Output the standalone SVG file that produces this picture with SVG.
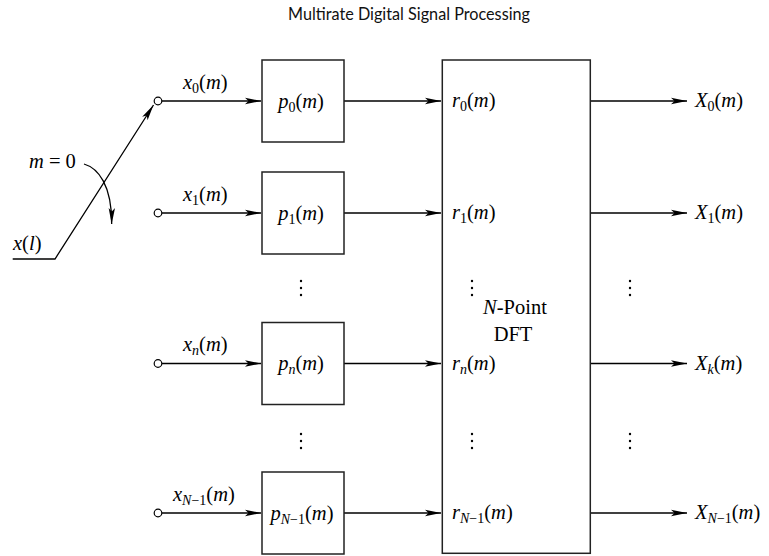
<svg xmlns="http://www.w3.org/2000/svg" width="769" height="556" viewBox="0 0 769 556">
<defs>
<marker id="ah" viewBox="-16 -4 17 8" refX="0" refY="0" markerWidth="17" markerHeight="8" markerUnits="userSpaceOnUse" orient="auto">
<path d="M0,0 L-16,-3.2 L-12.5,0 L-16,3.2 Z" fill="#000"/>
</marker>
</defs>
<style>
.ln{stroke:#000;stroke-width:1.3;fill:none}
.bx{stroke:#222;stroke-width:1.5;fill:#fff}
.pin{stroke:#000;stroke-width:1.2;fill:#fff}
.t{font-family:"Liberation Serif","Times New Roman",serif;font-size:20.5px;fill:#000}
.i{font-style:italic}
.s{font-size:14px}
.dot{fill:#000}
.title{font-family:Lato,"Open Sans",sans-serif;font-size:18px;fill:#111}
</style>
<rect width="769" height="556" fill="#fff"/>
<text class="title" x="409" y="19.5" text-anchor="middle" textLength="242" lengthAdjust="spacingAndGlyphs">Multirate Digital Signal Processing</text>

<g id="connectors">
<polyline class="ln" points="12.7,259 55,259 153.5,105" marker-end="url(#ah)"/>
<path class="ln" d="M84,164 C98,168 112,185 111.7,224" marker-end="url(#ah)"/>
<line class="ln" x1="162" y1="101" x2="261" y2="101" marker-end="url(#ah)"/>
<line class="ln" x1="162" y1="213" x2="261" y2="213" marker-end="url(#ah)"/>
<line class="ln" x1="162" y1="363.5" x2="261" y2="363.5" marker-end="url(#ah)"/>
<line class="ln" x1="162" y1="513" x2="261" y2="513" marker-end="url(#ah)"/>
<line class="ln" x1="344" y1="101" x2="441" y2="101" marker-end="url(#ah)"/>
<line class="ln" x1="344" y1="213" x2="441" y2="213" marker-end="url(#ah)"/>
<line class="ln" x1="344" y1="363.5" x2="441" y2="363.5" marker-end="url(#ah)"/>
<line class="ln" x1="344" y1="513" x2="441" y2="513" marker-end="url(#ah)"/>
<line class="ln" x1="590" y1="101" x2="687" y2="101" marker-end="url(#ah)"/>
<line class="ln" x1="590" y1="213" x2="687" y2="213" marker-end="url(#ah)"/>
<line class="ln" x1="590" y1="363.5" x2="687" y2="363.5" marker-end="url(#ah)"/>
<line class="ln" x1="590" y1="513" x2="687" y2="513" marker-end="url(#ah)"/>
</g>

<g id="switch-labels">
<text class="t" x="13" y="250"><tspan class="i">x</tspan>(<tspan class="i">l</tspan>)</text>
<text class="t" x="29" y="168"><tspan class="i">m</tspan> = 0</text>
</g>

<g id="input0">
<circle class="pin" cx="158" cy="101" r="3.8"/>
<text class="t" x="183" y="88.5"><tspan class="i">x</tspan><tspan class="s" dy="4">0</tspan><tspan dy="-4">(</tspan><tspan class="i">m</tspan>)</text>
</g>
<g id="input1">
<circle class="pin" cx="158" cy="213" r="3.8"/>
<text class="t" x="183" y="200.5"><tspan class="i">x</tspan><tspan class="s" dy="4">1</tspan><tspan dy="-4">(</tspan><tspan class="i">m</tspan>)</text>
</g>
<g id="inputn">
<circle class="pin" cx="158" cy="363.5" r="3.8"/>
<text class="t" x="183" y="351"><tspan class="i">x</tspan><tspan class="s i" dy="4">n</tspan><tspan dy="-4">(</tspan><tspan class="i">m</tspan>)</text>
</g>
<g id="inputN1">
<circle class="pin" cx="158" cy="513" r="3.8"/>
<text class="t" x="173" y="500.5"><tspan class="i">x</tspan><tspan class="s" dy="4"><tspan class="i">N</tspan>−1</tspan><tspan dy="-4">(</tspan><tspan class="i">m</tspan>)</text>
</g>

<g id="p0">
<rect class="bx" x="262" y="60" width="82" height="82"/>
<text class="t" x="301" y="107.5" text-anchor="middle"><tspan class="i">p</tspan><tspan class="s" dy="4">0</tspan><tspan dy="-4">(</tspan><tspan class="i">m</tspan>)</text>
</g>
<g id="p1">
<rect class="bx" x="262" y="172" width="82" height="82"/>
<text class="t" x="301" y="219.5" text-anchor="middle"><tspan class="i">p</tspan><tspan class="s" dy="4">1</tspan><tspan dy="-4">(</tspan><tspan class="i">m</tspan>)</text>
</g>
<g id="pn">
<rect class="bx" x="262" y="322.5" width="82" height="82"/>
<text class="t" x="301" y="370" text-anchor="middle"><tspan class="i">p</tspan><tspan class="s i" dy="4">n</tspan><tspan dy="-4">(</tspan><tspan class="i">m</tspan>)</text>
</g>
<g id="pN1">
<rect class="bx" x="262" y="472" width="82" height="82"/>
<text class="t" x="302" y="519.5" text-anchor="middle"><tspan class="i">p</tspan><tspan class="s" dy="4"><tspan class="i">N</tspan>−1</tspan><tspan dy="-4">(</tspan><tspan class="i">m</tspan>)</text>
</g>
<g id="pdots">
<circle class="dot" cx="301" cy="281" r="1.2"/><circle class="dot" cx="301" cy="288" r="1.2"/><circle class="dot" cx="301" cy="295" r="1.2"/>
<circle class="dot" cx="301" cy="434" r="1.2"/><circle class="dot" cx="301" cy="441" r="1.2"/><circle class="dot" cx="301" cy="448" r="1.2"/>
</g>

<g id="dft">
<rect class="bx" x="442.3" y="60" width="148" height="493.3"/>
<text class="t" x="452" y="107"><tspan class="i">r</tspan><tspan class="s" dy="4">0</tspan><tspan dy="-4">(</tspan><tspan class="i">m</tspan>)</text>
<text class="t" x="452" y="219"><tspan class="i">r</tspan><tspan class="s" dy="4">1</tspan><tspan dy="-4">(</tspan><tspan class="i">m</tspan>)</text>
<text class="t" x="452" y="369.5"><tspan class="i">r</tspan><tspan class="s i" dy="4">n</tspan><tspan dy="-4">(</tspan><tspan class="i">m</tspan>)</text>
<text class="t" x="452" y="519"><tspan class="i">r</tspan><tspan class="s" dy="4"><tspan class="i">N</tspan>−1</tspan><tspan dy="-4">(</tspan><tspan class="i">m</tspan>)</text>
<text class="t" x="515" y="314.3" text-anchor="middle"><tspan class="i">N</tspan>-Point</text>
<text class="t" x="513" y="340.7" text-anchor="middle">DFT</text>
<circle class="dot" cx="472" cy="281" r="1.2"/><circle class="dot" cx="472" cy="288" r="1.2"/><circle class="dot" cx="472" cy="295" r="1.2"/>
<circle class="dot" cx="472" cy="434" r="1.2"/><circle class="dot" cx="472" cy="441" r="1.2"/><circle class="dot" cx="472" cy="448" r="1.2"/>
</g>

<g id="outputs">
<text class="t" x="695" y="107"><tspan class="i">X</tspan><tspan class="s" dy="4">0</tspan><tspan dy="-4">(</tspan><tspan class="i">m</tspan>)</text>
<text class="t" x="695" y="219"><tspan class="i">X</tspan><tspan class="s" dy="4">1</tspan><tspan dy="-4">(</tspan><tspan class="i">m</tspan>)</text>
<text class="t" x="695" y="369.5"><tspan class="i">X</tspan><tspan class="s i" dy="4">k</tspan><tspan dy="-4">(</tspan><tspan class="i">m</tspan>)</text>
<text class="t" x="695" y="519"><tspan class="i">X</tspan><tspan class="s" dy="4"><tspan class="i">N</tspan>−1</tspan><tspan dy="-4">(</tspan><tspan class="i">m</tspan>)</text>
<circle class="dot" cx="630" cy="281" r="1.2"/><circle class="dot" cx="630" cy="288" r="1.2"/><circle class="dot" cx="630" cy="295" r="1.2"/>
<circle class="dot" cx="630" cy="434" r="1.2"/><circle class="dot" cx="630" cy="441" r="1.2"/><circle class="dot" cx="630" cy="448" r="1.2"/>
</g>
</svg>
